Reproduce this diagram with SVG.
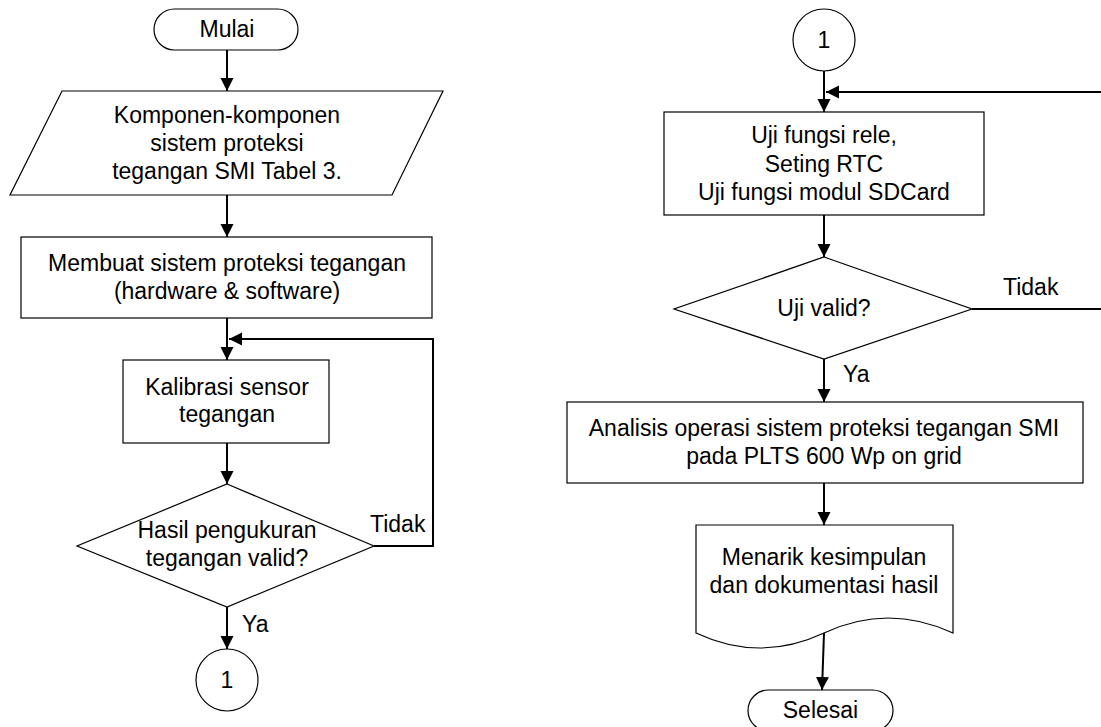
<svg xmlns="http://www.w3.org/2000/svg" width="1101" height="727" viewBox="0 0 1101 727">
<defs>
<style>
.n{fill:#fff;stroke:#000;stroke-width:1.2}
.c{fill:none;stroke:#000;stroke-width:2}
.t{font-family:"Liberation Sans",Arial,sans-serif;font-size:23px;fill:#000;text-anchor:middle}
.l{font-family:"Liberation Sans",Arial,sans-serif;font-size:23px;fill:#000;text-anchor:start}
</style>
<marker id="ah" markerUnits="userSpaceOnUse" markerWidth="14" markerHeight="14" refX="13" refY="7" orient="auto">
<path d="M0,0.5 L13,7 L0,13.5 z" fill="#000"/>
</marker>
</defs>
<rect width="1101" height="727" fill="#fff"/>
<g id="connectors">
<path class="c" d="M227,50 L227,91" marker-end="url(#ah)"/>
<path class="c" d="M227,195 L227,237" marker-end="url(#ah)"/>
<path class="c" d="M227,318 L227,360" marker-end="url(#ah)"/>
<path class="c" d="M227,443 L227,484" marker-end="url(#ah)"/>
<path class="c" d="M227,607 L227,649" marker-end="url(#ah)"/>
<path class="c" d="M374,546 L433,546 L433,339 L229,339" marker-end="url(#ah)"/>
<path class="c" d="M824,71 L824,112" marker-end="url(#ah)"/>
<path class="c" d="M824,215 L824,257" marker-end="url(#ah)"/>
<path class="c" d="M824,359 L824,402" marker-end="url(#ah)"/>
<path class="c" d="M824,483 L824,525" marker-end="url(#ah)"/>
<path class="c" d="M824,633 L822,690" marker-end="url(#ah)"/>
<path class="c" d="M972,309 L1103,309 L1103,92 L826,92" marker-end="url(#ah)"/>
<text class="l" x="370" y="532">Tidak</text>
<text class="l" x="242" y="632">Ya</text>
<text class="l" x="1003" y="295">Tidak</text>
<text class="l" x="843" y="382">Ya</text>
</g>
<g id="mulai">
<rect class="n" x="154" y="9" width="144" height="41" rx="20.5" ry="20.5"/>
<text class="t" x="227" y="37">Mulai</text>
</g>
<g id="komponen">
<polygon class="n" points="62,91 443,91 392,195 10,195"/>
<text class="t" x="227" y="123">Komponen-komponen</text>
<text class="t" x="227" y="151">sistem proteksi</text>
<text class="t" x="227" y="179">tegangan SMI Tabel 3.</text>
</g>
<g id="membuat">
<rect class="n" x="21" y="237" width="411" height="81"/>
<text class="t" x="227" y="271">Membuat sistem proteksi tegangan</text>
<text class="t" x="227" y="299">(hardware &amp; software)</text>
</g>
<g id="kalibrasi">
<rect class="n" x="123" y="360" width="206" height="83"/>
<text class="t" x="227" y="395">Kalibrasi sensor</text>
<text class="t" x="227" y="422">tegangan</text>
</g>
<g id="hasil">
<polygon class="n" points="227,484 374,546 227,607 77,546"/>
<text class="t" x="227" y="538">Hasil pengukuran</text>
<text class="t" x="227" y="566">tegangan valid?</text>
</g>
<g id="con1a">
<circle class="n" cx="227" cy="680" r="31"/>
<text class="t" x="227" y="688">1</text>
</g>
<g id="con1b">
<circle class="n" cx="824" cy="40" r="31"/>
<text class="t" x="824" y="48">1</text>
</g>
<g id="ujifungsi">
<rect class="n" x="664" y="112" width="320" height="103"/>
<text class="t" x="824" y="143">Uji fungsi rele,</text>
<text class="t" x="824" y="172">Seting RTC</text>
<text class="t" x="824" y="200">Uji fungsi modul SDCard</text>
</g>
<g id="ujivalid">
<polygon class="n" points="824,257 972,309 824,359 674,309"/>
<text class="t" x="824" y="316">Uji valid?</text>
</g>
<g id="analisis">
<rect class="n" x="567" y="402" width="516" height="81"/>
<text class="t" x="824" y="436">Analisis operasi sistem proteksi tegangan SMI</text>
<text class="t" x="824" y="464">pada PLTS 600 Wp on grid</text>
</g>
<g id="menarik">
<path class="n" d="M696,525 L953,525 L953,633 Q888,603 824,633 Q760,663 696,633 Z"/>
<text class="t" x="824" y="565">Menarik kesimpulan</text>
<text class="t" x="824" y="593">dan dokumentasi hasil</text>
</g>
<g id="selesai">
<rect class="n" x="748" y="690" width="145" height="41" rx="20.5" ry="20.5"/>
<text class="t" x="820.5" y="718">Selesai</text>
</g>
</svg>
